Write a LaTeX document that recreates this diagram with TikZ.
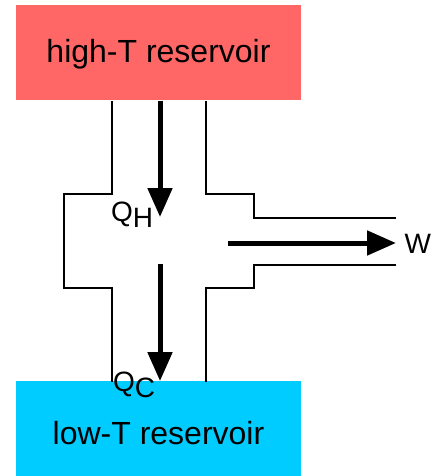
\documentclass[tikz,border=0pt]{standalone}
\usepackage{fontspec}
\setmainfont{Liberation Sans}
\usetikzlibrary{arrows.meta}
\definecolor{hotred}{HTML}{FF6666}
\definecolor{coldblue}{HTML}{00CCFF}
\begin{document}
\begin{tikzpicture}
[x=1pt,y=-1pt,every node/.style={inner sep=0pt, font=\fontsize{32}{38}\selectfont},
 reservoir/.style={minimum width=285pt, minimum height=95pt},
 pipe/.style={line width=2.5pt},
 flow/.style={line width=5pt, -{Triangle[width=24pt,length=29pt]}},
 heat/.style={anchor=base west, font=\fontsize{28}{32}\selectfont}]
\useasboundingbox (0,0) rectangle (432,476);
\node [reservoir, fill=hotred, text height=27pt, text depth=7pt] (hot) at (158.5,53) {high-T reservoir};
\node [reservoir, fill=coldblue, text height=31pt, text depth=0pt] (cold) at (158.5,428.75) {low-T reservoir};
\coordinate (qhtip) at (160,217);
\coordinate (qcstart) at (160,264);
\coordinate (wstart) at (228,243);
\coordinate (wend) at (396,243);
% engine outline
\draw [pipe] (112,101) -- (112,194) -- (64,194) -- (64,288) -- (112,288) -- (112,381.5);
\draw [pipe] (206,101) -- (206,194) -- (254,194) -- (254,218) -- (396,218);
\draw [pipe] (396,265) -- (254,265) -- (254,288) -- (206,288) -- (206,381.5);
% heat and work
\draw [flow] (hot.south -| qhtip) -- (qhtip);
\draw [flow] (qcstart) -- (qcstart |- cold.north);
\draw [flow] (wstart) -- (wend);
\node [heat] (qh) at (111,221) {Q\raisebox{-6pt}{H}};
\node [heat] (qc) at (113,391) {Q\raisebox{-6pt}{C}};
\node [heat] (w) at (404.5,253) {W};
\end{tikzpicture}
\end{document}
